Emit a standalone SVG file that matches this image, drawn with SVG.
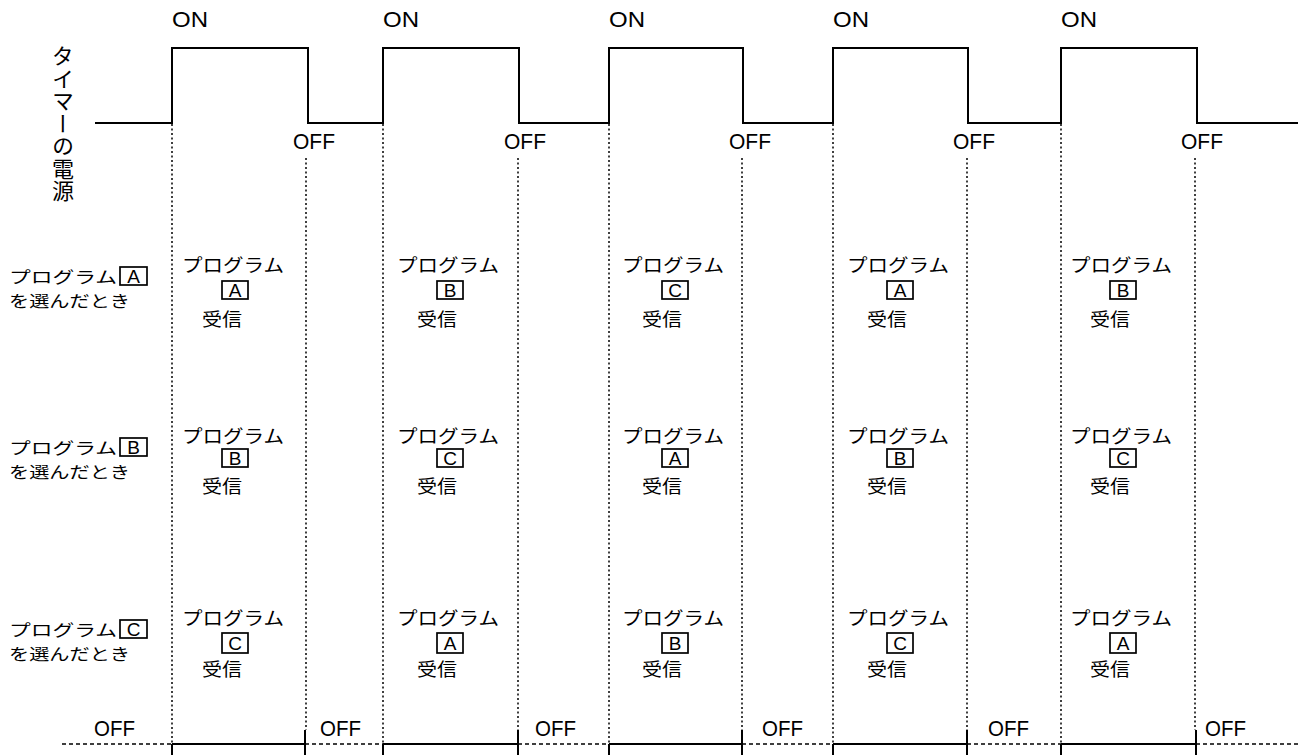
<svg xmlns="http://www.w3.org/2000/svg" width="1298" height="755" viewBox="0 0 1298 755">
<style>
.lat{font-family:"Liberation Sans",Arial,sans-serif;fill:#000}
.jp{font-family:"Noto Sans CJK JP","Noto Sans",sans-serif;fill:#000}
.wave{fill:none;stroke:#000;stroke-width:2}
.dot{stroke:#000;stroke-width:1.5;stroke-dasharray:2 2.5;fill:none}
.dash{stroke:#000;stroke-width:1.5;stroke-dasharray:4 3;fill:none}
.solid{stroke:#000;stroke-width:2;fill:none}
.box{fill:none;stroke:#000;stroke-width:1.7}
.on{font-size:22px}
.off{font-size:22px}
.pg{font-size:18px}
.lb{font-size:16px}
.rx{font-size:18px}
.bl{font-size:19px;font-family:"Liberation Sans",Arial,sans-serif;text-anchor:middle}
</style>
<rect width="1298" height="755" fill="#fff"/>

<g id="timer-label">
<text class="jp" x="63" y="45" font-size="22" style="writing-mode:vertical-rl" letter-spacing="0.5">タイマーの電源</text>
</g>

<g id="waveform">
<path class="wave" d="M95,123 H172 V48 H308 V123 H383 V48 H519 V123 H609 V48 H743 V123 H833 V48 H968 V123 H1061 V48 H1197 V123 H1298"/>
<text class="lat on" x="172" y="27" textLength="36" lengthAdjust="spacingAndGlyphs">ON</text>
<text class="lat on" x="383" y="27" textLength="36" lengthAdjust="spacingAndGlyphs">ON</text>
<text class="lat on" x="609" y="27" textLength="36" lengthAdjust="spacingAndGlyphs">ON</text>
<text class="lat on" x="833" y="27" textLength="36" lengthAdjust="spacingAndGlyphs">ON</text>
<text class="lat on" x="1061" y="27" textLength="36" lengthAdjust="spacingAndGlyphs">ON</text>
<text class="lat off" x="293" y="149" textLength="42" lengthAdjust="spacingAndGlyphs">OFF</text>
<text class="lat off" x="504" y="149" textLength="42" lengthAdjust="spacingAndGlyphs">OFF</text>
<text class="lat off" x="729" y="149" textLength="42" lengthAdjust="spacingAndGlyphs">OFF</text>
<text class="lat off" x="953" y="149" textLength="42" lengthAdjust="spacingAndGlyphs">OFF</text>
<text class="lat off" x="1181" y="149" textLength="42" lengthAdjust="spacingAndGlyphs">OFF</text>
</g>

<g id="connectors">
<path class="dot" d="M172,124 V744 M383,124 V744 M609,124 V744 M833,124 V744 M1061,124 V744"/>
<path class="dot" d="M306,158 V730 M518,158 V730 M742,158 V730 M967,158 V730 M1195,158 V730"/>
<path class="dash" d="M62,744 H172 M305,744 H383 M518,744 H609 M742,744 H833 M967,744 H1061 M1196,744 H1298"/>
<path class="solid" d="M172,744 H305 M383,744 H518 M609,744 H742 M833,744 H967 M1061,744 H1196"/>
<path class="solid" d="M172,744 V755 M383,744 V755 M609,744 V755 M833,744 V755 M1061,744 V755 M305,730 V755 M518,730 V755 M742,730 V755 M967,730 V755 M1196,730 V755"/>
</g>

<g id="bottom-off">
<text class="lat off" x="94" y="736" textLength="41" lengthAdjust="spacingAndGlyphs">OFF</text>
<text class="lat off" x="320" y="736" textLength="41" lengthAdjust="spacingAndGlyphs">OFF</text>
<text class="lat off" x="535" y="736" textLength="41" lengthAdjust="spacingAndGlyphs">OFF</text>
<text class="lat off" x="762" y="736" textLength="41" lengthAdjust="spacingAndGlyphs">OFF</text>
<text class="lat off" x="988" y="736" textLength="41" lengthAdjust="spacingAndGlyphs">OFF</text>
<text class="lat off" x="1205" y="736" textLength="41" lengthAdjust="spacingAndGlyphs">OFF</text>
</g>

<g id="row-label-A">
<text class="jp lb" x="9" y="283" textLength="108" lengthAdjust="spacingAndGlyphs">プログラム</text>
<rect class="box" x="120" y="267" width="27" height="18"/>
<text class="bl" x="133.5" y="283">A</text>
<text class="jp lb" x="9" y="307" textLength="121" lengthAdjust="spacingAndGlyphs">を選んだとき</text>
</g>
<g id="row-label-B">
<text class="jp lb" x="9" y="454" textLength="108" lengthAdjust="spacingAndGlyphs">プログラム</text>
<rect class="box" x="120" y="438" width="27" height="18"/>
<text class="bl" x="133.5" y="454">B</text>
<text class="jp lb" x="9" y="478" textLength="121" lengthAdjust="spacingAndGlyphs">を選んだとき</text>
</g>
<g id="row-label-C">
<text class="jp lb" x="9" y="636" textLength="108" lengthAdjust="spacingAndGlyphs">プログラム</text>
<rect class="box" x="120" y="620" width="27" height="18"/>
<text class="bl" x="133.5" y="636">C</text>
<text class="jp lb" x="9" y="660" textLength="121" lengthAdjust="spacingAndGlyphs">を選んだとき</text>
</g>

<defs>
<g id="pg"><text class="jp pg" x="0" y="0" textLength="102" lengthAdjust="spacingAndGlyphs">プログラム</text></g>
<g id="rx"><text class="jp rx" x="20" y="54" textLength="40" lengthAdjust="spacingAndGlyphs">受信</text></g>
</defs>

<g id="row1">
<g id="r1c1" transform="translate(182,272)"><use href="#pg"/><rect class="box" x="40" y="9" width="26" height="18"/><text class="bl" x="53" y="25">A</text><use href="#rx"/></g>
<g id="r1c2" transform="translate(397,272)"><use href="#pg"/><rect class="box" x="40" y="9" width="26" height="18"/><text class="bl" x="53" y="25">B</text><use href="#rx"/></g>
<g id="r1c3" transform="translate(622,272)"><use href="#pg"/><rect class="box" x="40" y="9" width="26" height="18"/><text class="bl" x="53" y="25">C</text><use href="#rx"/></g>
<g id="r1c4" transform="translate(847,272)"><use href="#pg"/><rect class="box" x="40" y="9" width="26" height="18"/><text class="bl" x="53" y="25">A</text><use href="#rx"/></g>
<g id="r1c5" transform="translate(1070,272)"><use href="#pg"/><rect class="box" x="40" y="9" width="26" height="18"/><text class="bl" x="53" y="25">B</text><use href="#rx"/></g>
</g>
<g id="row2">
<g id="r2c1" transform="translate(182,443)"><use href="#pg"/><rect class="box" x="40" y="6" width="26" height="18"/><text class="bl" x="53" y="22">B</text><use href="#rx" transform="translate(0,-4)"/></g>
<g id="r2c2" transform="translate(397,443)"><use href="#pg"/><rect class="box" x="40" y="6" width="26" height="18"/><text class="bl" x="53" y="22">C</text><use href="#rx" transform="translate(0,-4)"/></g>
<g id="r2c3" transform="translate(622,443)"><use href="#pg"/><rect class="box" x="40" y="6" width="26" height="18"/><text class="bl" x="53" y="22">A</text><use href="#rx" transform="translate(0,-4)"/></g>
<g id="r2c4" transform="translate(847,443)"><use href="#pg"/><rect class="box" x="40" y="6" width="26" height="18"/><text class="bl" x="53" y="22">B</text><use href="#rx" transform="translate(0,-4)"/></g>
<g id="r2c5" transform="translate(1070,443)"><use href="#pg"/><rect class="box" x="40" y="6" width="26" height="18"/><text class="bl" x="53" y="22">C</text><use href="#rx" transform="translate(0,-4)"/></g>
</g>
<g id="row3">
<g id="r3c1" transform="translate(182,625)"><use href="#pg"/><rect class="box" x="40" y="8" width="26" height="20"/><text class="bl" x="53" y="25">C</text><use href="#rx" transform="translate(0,-3)"/></g>
<g id="r3c2" transform="translate(397,625)"><use href="#pg"/><rect class="box" x="40" y="8" width="26" height="20"/><text class="bl" x="53" y="25">A</text><use href="#rx" transform="translate(0,-3)"/></g>
<g id="r3c3" transform="translate(622,625)"><use href="#pg"/><rect class="box" x="40" y="8" width="26" height="20"/><text class="bl" x="53" y="25">B</text><use href="#rx" transform="translate(0,-3)"/></g>
<g id="r3c4" transform="translate(847,625)"><use href="#pg"/><rect class="box" x="40" y="8" width="26" height="20"/><text class="bl" x="53" y="25">C</text><use href="#rx" transform="translate(0,-3)"/></g>
<g id="r3c5" transform="translate(1070,625)"><use href="#pg"/><rect class="box" x="40" y="8" width="26" height="20"/><text class="bl" x="53" y="25">A</text><use href="#rx" transform="translate(0,-3)"/></g>
</g>
</svg>
